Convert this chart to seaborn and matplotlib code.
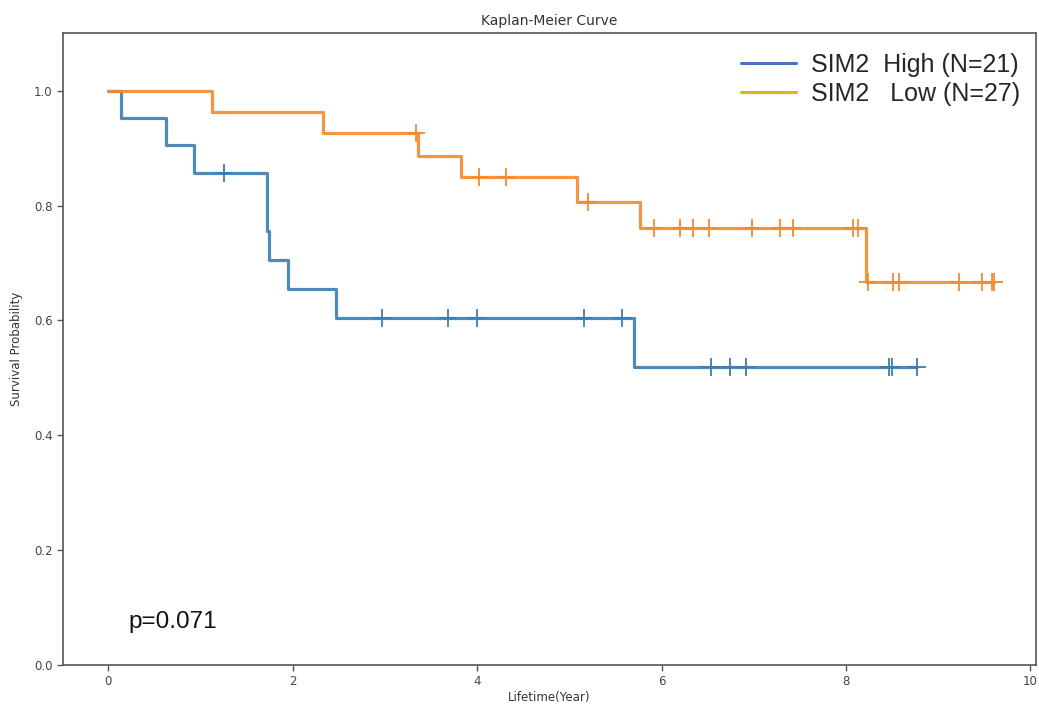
import numpy as np
import pandas as pd
import matplotlib
matplotlib.use("Agg")
import matplotlib.pyplot as plt
from matplotlib.lines import Line2D
import seaborn as sns

# ---- data ----
high_step_times = [0.0, 0.14, 0.63, 0.93, 1.72, 1.745, 1.95, 2.47, 5.70, 8.77]
high_surv       = [1.0, 0.952, 0.905, 0.857, 0.756, 0.706, 0.655, 0.605, 0.519, 0.519]
high_censor     = [1.26, 2.97, 3.69, 4.00, 5.16, 5.57, 6.54, 6.74, 6.92, 8.47, 8.50, 8.77]

low_step_times = [0.0, 1.13, 2.33, 3.36, 3.83, 5.08, 5.77, 8.22, 9.60]
low_surv       = [1.0, 0.963, 0.926, 0.887, 0.849, 0.806, 0.761, 0.666, 0.666]
low_censor     = [3.34, 4.02, 4.31, 5.20, 5.92, 6.20, 6.34, 6.52, 6.98, 7.28, 7.43,
                  8.08, 8.13, 8.24, 8.51, 8.57, 9.22, 9.48, 9.58, 9.60]

legend_labels = ["SIM2  High (N=21)", "SIM2   Low (N=27)"]
p_text = "p=0.071"
x_ticks = [0, 2, 4, 6, 8, 10]
y_ticks = [0.0, 0.2, 0.4, 0.6, 0.8, 1.0]

sns.set_theme(style="white")
plt.rcParams["font.family"] = ["DejaVu Sans"]

fig = plt.figure(figsize=(10.39, 7.06), dpi=100)
ax = fig.add_axes([0.0606, 0.058, 0.9365, 0.895])

curve_blue = "#3b7db3"
curve_orange = "#f28a2e"


def step_value(times, surv, t):
    idx = np.searchsorted(times, t, side="right") - 1
    return surv[idx]


for times, surv, cens, col in [
    (high_step_times, high_surv, high_censor, curve_blue),
    (low_step_times, low_surv, low_censor, curve_orange),
]:
    df = pd.DataFrame({"t": times, "s": surv})
    sns.lineplot(data=df, x="t", y="s", ax=ax, color=col, linewidth=2.3,
                 drawstyle="steps-post", estimator=None, sort=False, alpha=0.9)
    cdf = pd.DataFrame({"t": cens, "s": [step_value(np.array(times), surv, c) for c in cens]})
    sns.scatterplot(data=cdf, x="t", y="s", ax=ax, color=col, marker="+",
                    s=170, linewidth=1.3, zorder=3)

ax.set_xlim(-0.49, 10.06)
ax.set_ylim(0, 1.1)
ax.set_xticks(x_ticks)
ax.set_yticks(y_ticks)
ax.set_xticklabels([str(v) for v in x_ticks])
ax.set_yticklabels([f"{v:.1f}" for v in y_ticks])
ax.tick_params(axis="both", which="both", length=4, width=1, color="#555555",
               labelsize=8.5, labelcolor="#444444", direction="out",
               bottom=True, left=True)
for sp in ax.spines.values():
    sp.set_color("#555555")
    sp.set_linewidth(1.2)

ax.set_xlabel("Lifetime(Year)", fontsize=8.5, color="#333333", labelpad=2)
ax.set_ylabel("Survival Probability", fontsize=8.5, color="#333333", labelpad=8)
ax.set_title("Kaplan-Meier Curve", fontsize=10, color="#333333", pad=6)

ax.text(0.22, 0.075, p_text, fontsize=17.5, family=["Liberation Sans", "DejaVu Sans"],
        color="#111111", va="center", ha="left")

handles = [Line2D([0], [0], color="#4472c4", lw=2.2),
           Line2D([0], [0], color="#e6b01c", lw=2.2)]
leg = ax.legend(handles, legend_labels, loc="upper right", frameon=False,
                prop={"family": ["Liberation Sans", "DejaVu Sans"], "size": 18},
                handlelength=2.2, handletextpad=0.6, labelspacing=0.22,
                borderaxespad=0.1, bbox_to_anchor=(0.997, 0.989))

fig.savefig("out.png", dpi=100)
